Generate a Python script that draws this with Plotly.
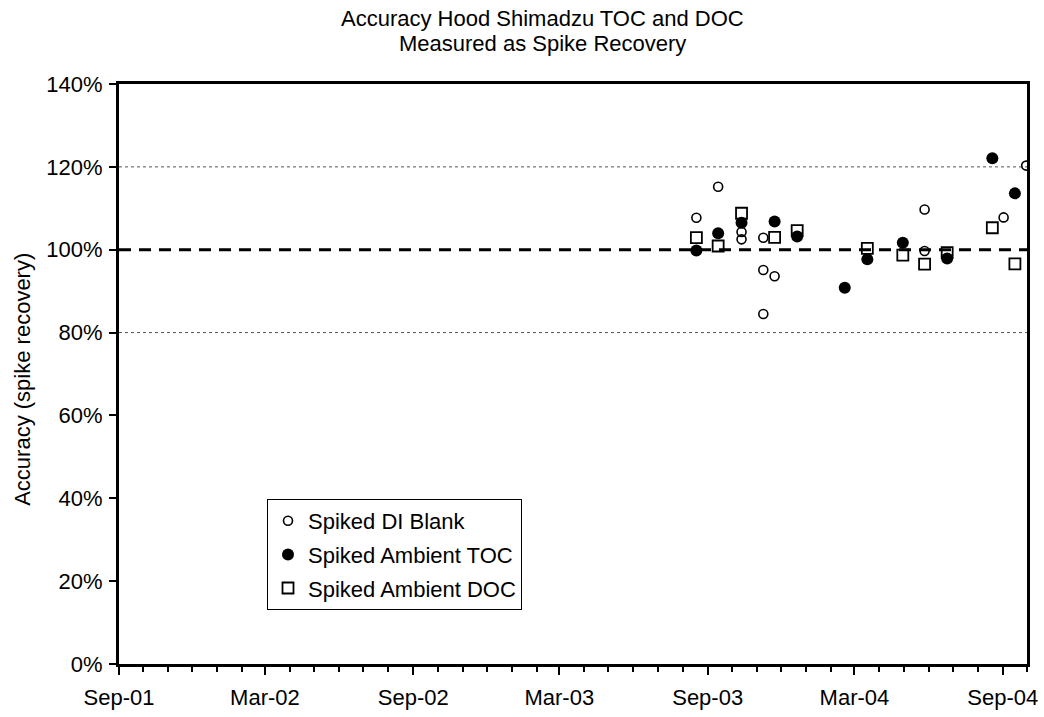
import plotly.graph_objects as go

# Spike recovery results (fraction of spike recovered)
di_blank_dates = ["2003-08-18", "2003-09-14", "2003-10-13", "2003-10-13",
                  "2003-11-09", "2003-11-09", "2003-11-09", "2003-11-23",
                  "2004-05-27", "2004-05-27", "2004-09-02", "2004-09-30"]
di_blank_values = [1.077, 1.152, 1.043, 1.025,
                   1.029, 0.951, 0.845, 0.936,
                   1.097, 0.997, 1.078, 1.203]

toc_dates = ["2003-08-18", "2003-09-14", "2003-10-13", "2003-11-23",
             "2003-12-21", "2004-02-18", "2004-03-17", "2004-04-30",
             "2004-06-24", "2004-08-19", "2004-09-16"]
toc_values = [0.998, 1.040, 1.065, 1.068,
              1.032, 0.908, 0.977, 1.017,
              0.979, 1.221, 1.136]

doc_dates = ["2003-08-18", "2003-09-14", "2003-10-13", "2003-11-23",
             "2003-12-21", "2004-03-17", "2004-04-30", "2004-05-27",
             "2004-06-24", "2004-08-19", "2004-09-16"]
doc_values = [1.029, 1.009, 1.088, 1.030,
              1.046, 1.003, 0.987, 0.965,
              0.993, 1.053, 0.966]

target = 1.0
control_limits = [0.8, 1.2]

title_lines = ["Accuracy Hood Shimadzu TOC and DOC", "Measured as Spike Recovery"]
y_title = "Accuracy (spike recovery)"

FONT = "Liberation Sans, Arial, sans-serif"
FS = 22

fig = go.Figure()

fig.add_trace(go.Scatter(
    x=di_blank_dates, y=di_blank_values, mode="markers", name="Spiked DI Blank",
    legendgroup="a",
    marker=dict(symbol="circle-open", size=9, color="black", line=dict(width=1.6)),
))
fig.add_trace(go.Scatter(
    x=toc_dates, y=toc_values, mode="markers", name="Spiked Ambient TOC",
    legendgroup="b",
    marker=dict(symbol="circle", size=12, color="black"),
))
fig.add_trace(go.Scatter(
    x=doc_dates, y=doc_values, mode="markers", name="Spiked Ambient DOC",
    legendgroup="c",
    marker=dict(symbol="square-open", size=11, color="black", line=dict(width=1.8)),
))

# Target and acceptance limits
fig.add_shape(type="line", xref="paper", x0=0, x1=1, yref="y", y0=target, y1=target,
              line=dict(color="black", width=3, dash="12px,8px"), layer="below")
for lim in control_limits:
    fig.add_shape(type="line", xref="paper", x0=0, x1=1, yref="y", y0=lim, y1=lim,
                  line=dict(color="#555555", width=1, dash="dot"), layer="below")

# Two-line title
for text, ypx in zip(title_lines, [18.5, 43.5]):
    fig.add_annotation(text=text, xref="paper", yref="paper",
                       x=(542 - 119) / 908, y=(664 - ypx) / 580,
                       xanchor="center", yanchor="middle", showarrow=False,
                       font=dict(family=FONT, size=FS, color="black"))

fig.add_annotation(text=y_title, xref="paper", yref="paper",
                   x=(23 - 119) / 908, y=0.49, textangle=-90,
                   xanchor="center", yanchor="middle", showarrow=False,
                   font=dict(family=FONT, size=FS, color="black"))

fig.update_layout(
    width=1044, height=717,
    margin=dict(l=119, r=17, t=84, b=53),
    paper_bgcolor="white", plot_bgcolor="white",
    font=dict(family=FONT, size=FS, color="black"),
    showlegend=True,
    legend=dict(x=(267 - 119) / 908, y=(664 - 610) / 580, xanchor="left", yanchor="bottom",
                bgcolor="white", bordercolor="black", borderwidth=1,
                traceorder="grouped", tracegroupgap=2,
                font=dict(family=FONT, size=FS, color="black")),
)

fig.update_xaxes(
    type="date", range=["2001-09-01", "2004-10-01"],
    tick0="2001-09-01", dtick="M6", tickformat="%b-%y",
    ticks="outside", ticklen=8, tickwidth=2, tickcolor="black",
    ticklabelstandoff=4, automargin=False,
    minor=dict(dtick="M1", ticks="outside", ticklen=5, tickwidth=2, tickcolor="black", showgrid=False),
    showline=True, linewidth=3, linecolor="black", mirror=True,
    showgrid=False, zeroline=False,
    tickfont=dict(family=FONT, size=FS, color="black"),
)
fig.update_yaxes(
    range=[0, 1.4], dtick=0.2, tickformat=".0%",
    ticks="outside", ticklen=7, tickwidth=2, tickcolor="black",
    ticklabelstandoff=2, automargin=False,
    showline=True, linewidth=3, linecolor="black", mirror=True,
    showgrid=False, zeroline=False,
    tickfont=dict(family=FONT, size=FS, color="black"),
)

fig.write_html("out.html")
